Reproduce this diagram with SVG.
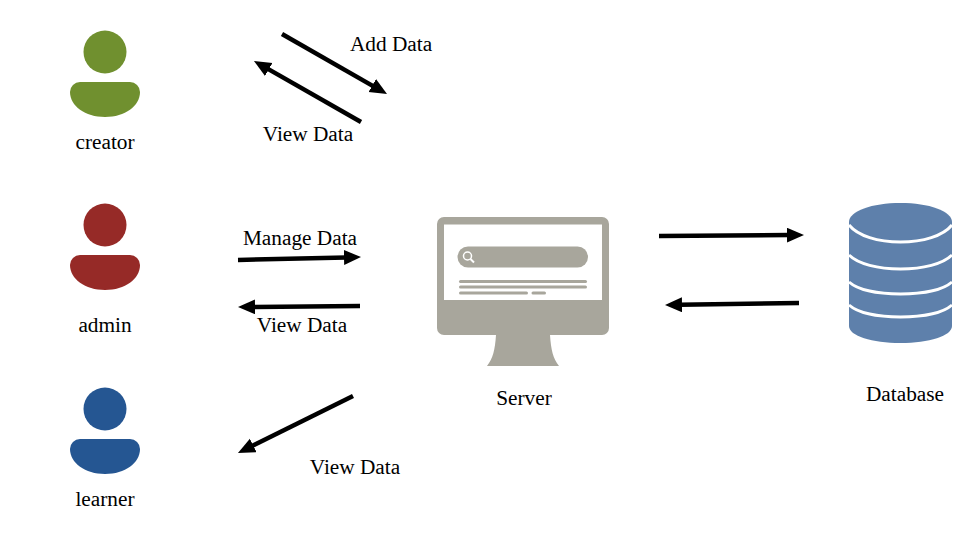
<svg xmlns="http://www.w3.org/2000/svg" width="972" height="536" viewBox="0 0 972 536">
<style>
text{font-family:"Liberation Serif","Times New Roman",serif;font-size:21.300px;fill:#000;text-anchor:middle}
.c{fill:none;stroke:#000;stroke-width:4.500;marker-end:url(#a)}
.m{fill:#a8a69c}
.db{fill:none;stroke:#fff;stroke-width:3}
.g{fill:#70902f}.r{fill:#962a27}.b{fill:#255692}
</style>
<defs>
<marker id="a" markerUnits="userSpaceOnUse" markerWidth="20" markerHeight="16" refX="2" refY="7.500" orient="auto"><path d="M0 0L17 7.500L0 15z" fill="#000"/></marker>
<path id="body" d="M70 92a10 10 0 0 1 10-10h50a10 10 0 0 1 10 10c0 14-15 25-35 25s-35-11-35-25z"/>
</defs>
<rect width="972" height="536" fill="#fff"/>
<g id="connectors">
<path class="c" d="M282 34L374 86.600"/>
<path class="c" d="M361 122L267 68.400"/>
<path class="c" d="M238 260L346 257.400"/>
<path class="c" d="M360 306L253 306.900"/>
<path class="c" d="M353 396L251.400 446.300"/>
<path class="c" d="M659 236L789 235.100"/>
<path class="c" d="M799 303L680 304.800"/>
</g>
<g id="creator"><circle class="g" cx="105" cy="52" r="21.500"/><use href="#body" class="g"/><text x="105" y="149">creator</text></g>
<g id="admin"><circle class="r" cx="105" cy="225" r="21.500"/><use href="#body" y="173" class="r"/><text x="105" y="332">admin</text></g>
<g id="learner"><circle class="b" cx="105" cy="409" r="21.500"/><use href="#body" y="357" class="b"/><text x="105" y="506">learner</text></g>
<g id="server">
<path class="m" fill-rule="evenodd" d="M444 217H602a7 7 0 0 1 7 7V328a7 7 0 0 1-7 7H444a7 7 0 0 1-7-7V224a7 7 0 0 1 7-7zM444 224.500V300H602V224.500z"/>
<path class="m" d="M496 335H550C551 350 553 358 559 366H487C493 358 495 350 496 335z"/>
<rect class="m" x="457.500" y="246.500" width="130.500" height="21" rx="10.500"/>
<circle cx="467.500" cy="256" r="4" fill="none" stroke="#fff" stroke-width="1.500"/>
<path d="M470.500 259L474 262.500" stroke="#fff" stroke-width="2" fill="none"/>
<rect class="m" x="459" y="280" width="128" height="3" rx="1.500"/>
<rect class="m" x="459" y="285.500" width="128" height="3" rx="1.500"/>
<rect class="m" x="459" y="291.500" width="69" height="3" rx="1.500"/>
<rect class="m" x="531.500" y="291.500" width="14.500" height="3" rx="1.500"/>
<text x="524" y="405">Server</text>
</g>
<g id="database">
<path fill="#5e80ab" d="M849 222C849 211 872 203 900.500 203S952 211 952 222V326C952 336 929 343 900.500 343S849 336 849 326z"/>
<path class="db" d="M849 225C858 236 878 242 900.500 242S943 236 952 225"/>
<path class="db" d="M849 255C858 264 878 269 900.500 269S943 264 952 255"/>
<path class="db" d="M849 282C858 290 878 294 900.500 294S943 290 952 282"/>
<path class="db" d="M849 305C858 313 878 317 900.500 317S943 313 952 305"/>
<text x="905" y="401">Database</text>
</g>
<text x="391" y="51">Add Data</text>
<text x="308" y="141">View Data</text>
<text x="300" y="245">Manage Data</text>
<text x="302" y="332">View Data</text>
<text x="355" y="474">View Data</text>
</svg>
